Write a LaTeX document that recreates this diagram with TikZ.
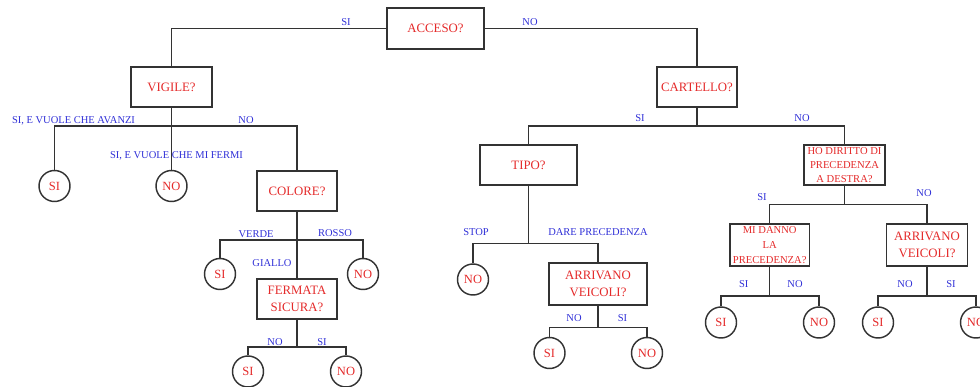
\documentclass[tikz,border=0pt]{standalone}
\usepackage{fontspec}
\setmainfont{Liberation Serif}
\definecolor{myred}{RGB}{228,42,42}
\definecolor{myblue}{RGB}{48,48,215}
\begin{document}
\begin{tikzpicture}[x=1pt,y=-1pt,
  line width=1.45pt,
  qbox/.style={draw=black!80, line width=1.45pt, rectangle, inner sep=0pt, text=myred, align=center,
    font=\fontsize{12.8}{17}\selectfont},
  smallq/.style={qbox, font=\fontsize{10.6}{14.2}\selectfont},
  leaf/.style={draw=black!80, line width=1.45pt, circle, minimum size=31pt, inner sep=0pt, text=myred,
    font=\fontsize{12.5}{14}\selectfont},
  lbl/.style={inner sep=0pt, text=myblue, text height=7pt, text depth=0pt,
    font=\fontsize{10.5}{12}\selectfont},
  conn/.style={draw=black!80, line width=1.45pt}]
\useasboundingbox (0,0) rectangle (980,387);

% question boxes
\node[qbox, minimum width=97pt, minimum height=41pt] (acceso) at (435.5,28.5) {ACCESO?};
\node[qbox, minimum width=81pt, minimum height=40pt] (vigile) at (171.5,87) {VIGILE?};
\node[qbox, minimum width=80pt, minimum height=40pt] (cartello) at (697,87) {CARTELLO?};
\node[qbox, minimum width=80pt, minimum height=40pt] (colore) at (297,191) {COLORE?};
\node[qbox, minimum width=97pt, minimum height=40pt] (tipo) at (528.5,165) {TIPO?};
\node[smallq, minimum width=81pt, minimum height=40pt] (hod) at (844.5,165) {HO DIRITTO DI\\PRECEDENZA\\A DESTRA?};
\node[qbox, minimum width=80pt, minimum height=40pt] (fermata) at (297,299) {FERMATA\\SICURA?};
\node[qbox, minimum width=97.6pt, minimum height=42pt] (arr1) at (598,284) {ARRIVANO\\VEICOLI?};
\node[smallq, minimum width=79.5pt, minimum height=41.6pt, font=\fontsize{10.6}{14.8}\selectfont] (mid) at (769.7,245) {MI DANNO\\LA\\PRECEDENZA?};
\node[qbox, minimum width=80.5pt, minimum height=42pt] (arr2) at (927,245) {ARRIVANO\\VEICOLI?};

% leaves
\node[leaf] (vsi) at (54.5,186) {SI};
\node[leaf] (vno) at (171.5,186) {NO};
\node[leaf] (csi) at (220,274) {SI};
\node[leaf] (cno) at (363,274) {NO};
\node[leaf] (fsi) at (248,371.5) {SI};
\node[leaf] (fno) at (346,371.5) {NO};
\node[leaf] (tno) at (473,279.5) {NO};
\node[leaf] (a1si) at (549.5,353) {SI};
\node[leaf] (a1no) at (647,353) {NO};
\node[leaf] (msi) at (721,322.5) {SI};
\node[leaf] (mno) at (819,322.5) {NO};
\node[leaf] (a2si) at (878,322.5) {SI};
\node[leaf] (a2no) at (976,322.5) {NO};

% bus coordinates
\coordinate (vb) at (171.5,126);
\coordinate (cb) at (697,126);
\coordinate (cb2) at (297,240);
\coordinate (fb) at (297,347);
\coordinate (tb) at (528.5,243.4);
\coordinate (ab) at (598,327.7);
\coordinate (hb) at (844.5,204.5);
\coordinate (mb) at (769.7,296);
\coordinate (a2b) at (927,296);

% connectors
\draw[conn] (acceso.west) -| (vigile.north);
\draw[conn] (acceso.east) -| (cartello.north);
\draw[conn] (vigile.south) -- (vno.north);
\draw[conn] (vsi.north) |- (vb) -| (colore.north);
\draw[conn] (cartello.south) -- (cb);
\draw[conn] (tipo.north) |- (cb) -| (hod.north);
\draw[conn] (colore.south) -- (fermata.north);
\draw[conn] (csi.north) |- (cb2) -| (cno.north);
\draw[conn] (fermata.south) -- (fb);
\draw[conn] (fsi.north) |- (fb) -| (fno.north);
\draw[conn] (tipo.south) -- (tb);
\draw[conn] (tno.north) |- (tb) -| (arr1.north);
\draw[conn] (arr1.south) -- (ab);
\draw[conn] (a1si.north) |- (ab) -| (a1no.north);
\draw[conn] (hod.south) -- (hb);
\draw[conn] (mid.north) |- (hb) -| (arr2.north);
\draw[conn] (mid.south) -- (mb);
\draw[conn] (msi.north) |- (mb) -| (mno.north);
\draw[conn] (arr2.south) -- (a2b);
\draw[conn] (a2si.north) |- (a2b) -| (a2no.north);

% labels
\node[lbl] (l1) at (346,22) {SI};
\node[lbl] (l2) at (530,22) {NO};
\node[lbl] (l3) at (73.5,120) {SI, E VUOLE CHE AVANZI};
\node[lbl] (l4) at (246,120) {NO};
\node[lbl] (l5) at (176.5,155) {SI, E VUOLE CHE MI FERMI};
\node[lbl] (l6) at (640,118) {SI};
\node[lbl] (l7) at (802,118) {NO};
\node[lbl] (l8) at (256,234) {VERDE};
\node[lbl] (l9) at (335,233) {ROSSO};
\node[lbl] (l10) at (272,263) {GIALLO};
\node[lbl] (l11) at (275,342) {NO};
\node[lbl] (l12) at (322,342) {SI};
\node[lbl] (l13) at (476,232) {STOP};
\node[lbl] (l14) at (598,232) {DARE PRECEDENZA};
\node[lbl] (l15) at (574,318) {NO};
\node[lbl] (l16) at (622.5,318) {SI};
\node[lbl] (l17) at (762,197) {SI};
\node[lbl] (l18) at (924,193.5) {NO};
\node[lbl] (l19) at (743.7,284) {SI};
\node[lbl] (l20) at (795,284) {NO};
\node[lbl] (l21) at (905,284) {NO};
\node[lbl] (l22) at (951,284) {SI};
\end{tikzpicture}
\end{document}
